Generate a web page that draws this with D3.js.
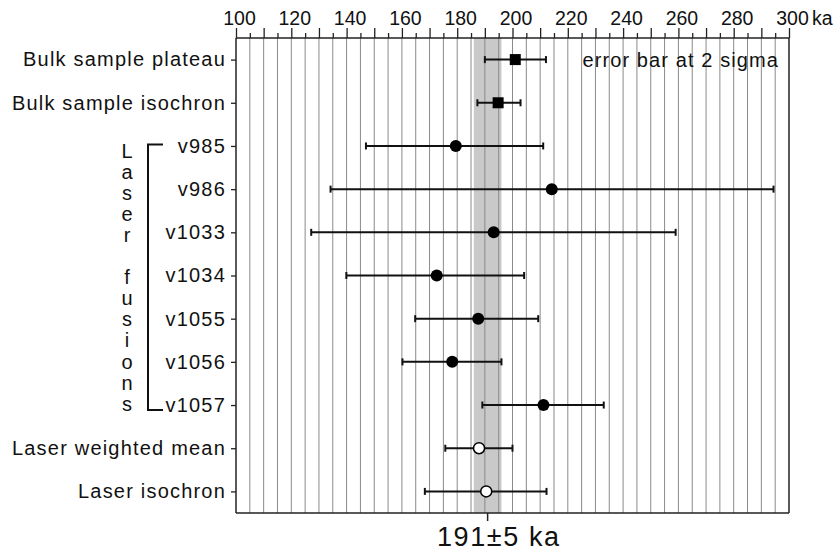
<!DOCTYPE html>
<meta charset="utf-8">
<style>
    body { margin: 0; background: #fff; }
    text { font-family: "Liberation Sans", Arial, Helvetica, sans-serif; fill: #111; }
    .grid line { stroke: #8a8a8a; stroke-width: 1; }
    .frame line { stroke: #222; stroke-width: 1.5; }
</style>
<svg id="chart" width="840" height="552"></svg>
<script src="https://d3js.org/d3.v7.min.js"></script>
<script>

    // samples, top to bottom
    var labels = ["Bulk sample plateau", "Bulk sample isochron", "v985", "v986", "v1033", "v1034",
        "v1055", "v1056", "v1057", "Laser weighted mean", "Laser isochron"];
    var ages  = [201.0, 194.8, 179.5, 214.2, 193.2, 172.6, 187.6, 178.2, 211.2, 187.9, 190.5];
    var lows  = [190.0, 187.3, 147.0, 134.2, 127.2, 139.9, 164.8, 160.2, 189.1, 175.7, 168.3];
    var highs = [212.1, 202.9, 211.1, 294.4, 259.0, 204.2, 209.3, 196.0, 233.0, 200.0, 212.3];
    var markers = ["square", "square", "dot", "dot", "dot", "dot", "dot", "dot", "dot", "open", "open"];

    var xTickLabels = [100, 120, 140, 160, 180, 200, 220, 240, 260, 280, 300];
    var meanAge = 191, meanErr = 5;
    var groupLetters = ["L", "a", "s", "e", "r", "", "f", "u", "s", "i", "o", "n", "s"];

    var svg = d3.select("#chart");
    // note: "top" is taken by window.top, so use plot* names
    var plotLeft = 236, plotRight = 789, plotTop = 38, plotBottom = 513;

    var x = d3.scaleLinear().domain([100, 300]).range([plotLeft, plotRight]);
    var y = d3.scalePoint().domain(labels).range([plotTop, plotBottom]).padding(0.5);

    // shaded mean band
    svg.append("rect")
        .attr("x", x(meanAge - meanErr))
        .attr("y", plotTop)
        .attr("width", x(meanAge + meanErr) - x(meanAge - meanErr))
        .attr("height", plotBottom - plotTop)
        .attr("fill", "#c9c9c9");

    // vertical grid every 5 ka
    svg.append("g").attr("class", "grid")
        .selectAll("line")
        .data(d3.range(105, 300, 5))
        .enter().append("line")
        .attr("x1", d => x(d)).attr("x2", d => x(d))
        .attr("y1", plotTop).attr("y2", plotBottom);

    // top axis
    var topAxis = d3.axisTop(x)
        .tickValues(d3.range(100, 301, 5))
        .tickSize(5)
        .tickFormat("");
    var gTop = svg.append("g").attr("transform", "translate(0," + plotTop + ")").call(topAxis);
    gTop.select(".domain").remove();
    gTop.selectAll(".tick line")
        .attr("stroke", "#222")
        .attr("stroke-width", 1.3)
        .attr("y2", d => d % 10 === 0 ? -10 : -5);

    svg.append("g").selectAll("text")
        .data(xTickLabels)
        .enter().append("text")
        .attr("x", d => x(d) + 3.5)
        .attr("y", 25)
        .attr("text-anchor", "middle")
        .style("font-size", "19.5px")
        .text(d => d);
    svg.append("text")
        .attr("x", 812)
        .attr("y", 25)
        .style("font-size", "19.5px")
        .text("ka");

    // frame
    var frame = svg.append("g").attr("class", "frame");
    frame.append("line").attr("x1", plotLeft).attr("x2", plotRight).attr("y1", plotTop).attr("y2", plotTop);
    frame.append("line").attr("x1", plotLeft).attr("x2", plotRight).attr("y1", plotBottom).attr("y2", plotBottom);
    frame.append("line").attr("x1", plotLeft).attr("x2", plotLeft).attr("y1", plotTop).attr("y2", plotBottom);
    frame.append("line").attr("x1", plotRight).attr("x2", plotRight).attr("y1", plotTop).attr("y2", plotBottom);

    // left axis
    var leftAxis = d3.axisLeft(y).tickSize(5).tickPadding(5);
    var gLeft = svg.append("g").attr("transform", "translate(" + plotLeft + ",0)").call(leftAxis);
    gLeft.select(".domain").remove();
    gLeft.selectAll(".tick line").attr("stroke", "#222").attr("stroke-width", 1.3);
    gLeft.selectAll(".tick text")
        .attr("fill", "#111")
        .style("font-family", '"Liberation Sans", Arial, sans-serif')
        .style("font-size", "20px")
        .style("letter-spacing", "1.2px");

    // bottom tick and mean label
    svg.append("line")
        .attr("x1", x(meanAge)).attr("x2", x(meanAge))
        .attr("y1", plotBottom).attr("y2", plotBottom + 8)
        .attr("stroke", "#222").attr("stroke-width", 1.5);
    svg.append("text")
        .attr("x", 437)
        .attr("y", 546)
        .style("font-size", "27px")
        .style("letter-spacing", "1.6px")
        .text(meanAge + "\u00b1" + meanErr + " ka");

    // note
    svg.append("text")
        .attr("x", 779)
        .attr("y", 67)
        .attr("text-anchor", "end")
        .style("font-size", "20px")
        .style("letter-spacing", "1.1px")
        .text("error bar at 2 sigma");

    // group label and bracket
    svg.append("g").selectAll("text")
        .data(groupLetters)
        .enter().append("text")
        .attr("x", 127)
        .attr("y", (d, i) => 158 + i * 21.05)
        .attr("text-anchor", "middle")
        .style("font-size", "20px")
        .text(d => d);
    var b0 = y("v985") - 1.5, b1 = y("v1057") + 5;
    svg.append("path")
        .attr("d", "M163," + b0 + "H148V" + b1 + "H163")
        .attr("fill", "none")
        .attr("stroke", "#111")
        .attr("stroke-width", 2);

    // error bars
    var rows = labels.map((d, i) => ({label: d, age: ages[i], lo: lows[i], hi: highs[i], mark: markers[i]}));
    var bars = svg.append("g").selectAll("g")
        .data(rows)
        .enter().append("g");
    bars.append("line")
        .attr("x1", d => x(d.lo)).attr("x2", d => x(d.hi))
        .attr("y1", d => y(d.label)).attr("y2", d => y(d.label))
        .attr("stroke", "#111").attr("stroke-width", 2);
    bars.append("line")
        .attr("x1", d => x(d.lo)).attr("x2", d => x(d.lo))
        .attr("y1", d => y(d.label) - 3.5).attr("y2", d => y(d.label) + 3.5)
        .attr("stroke", "#111").attr("stroke-width", 2);
    bars.append("line")
        .attr("x1", d => x(d.hi)).attr("x2", d => x(d.hi))
        .attr("y1", d => y(d.label) - 3.5).attr("y2", d => y(d.label) + 3.5)
        .attr("stroke", "#111").attr("stroke-width", 2);

    bars.filter(d => d.mark === "square").append("rect")
        .attr("x", d => x(d.age) - 5.5)
        .attr("y", d => y(d.label) - 5.5)
        .attr("width", 11).attr("height", 11)
        .attr("fill", "#000");
    bars.filter(d => d.mark === "dot").append("circle")
        .attr("cx", d => x(d.age)).attr("cy", d => y(d.label))
        .attr("r", 6)
        .attr("fill", "#000");
    bars.filter(d => d.mark === "open").append("circle")
        .attr("cx", d => x(d.age)).attr("cy", d => y(d.label))
        .attr("r", 5.5)
        .attr("fill", "#fff")
        .attr("stroke", "#000")
        .attr("stroke-width", 1.5);

</script>
